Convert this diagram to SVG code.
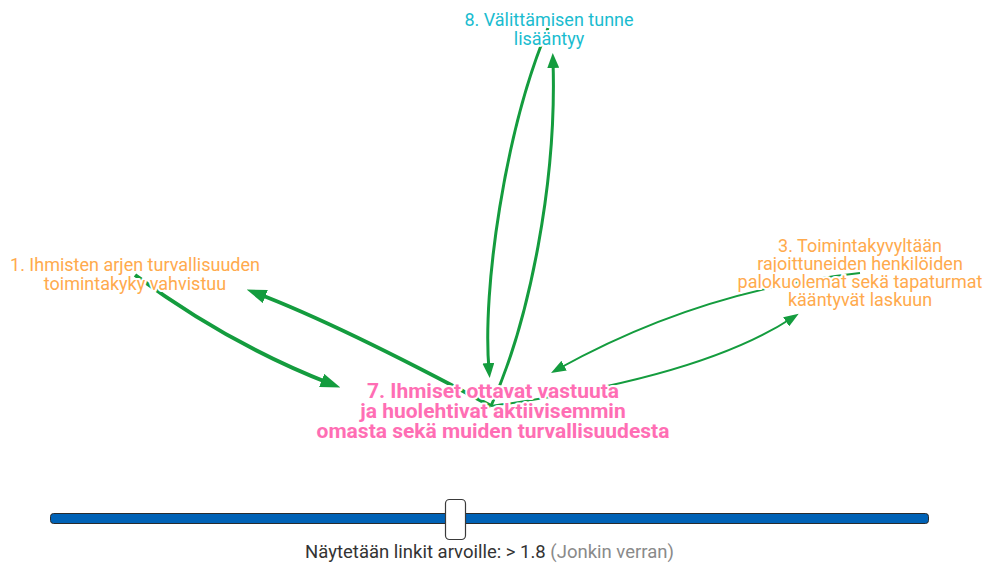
<svg xmlns="http://www.w3.org/2000/svg" width="986" height="566" viewBox="0 0 986 566">
<style>
.bg{fill:#ffffff}
.link{fill:none;stroke:#149c3e;stroke-linecap:butt}
.w4{stroke-width:4}
.w3{stroke-width:3}
.w2{stroke-width:2}
.lbl{font-family:Roboto,"Liberation Sans",sans-serif;font-size:18px;text-anchor:middle;paint-order:stroke;stroke:#ffffff;stroke-width:4px;stroke-linejoin:round}
.big{font-size:21px;font-weight:bold}
.orange{fill:#ffaa4d}
.pink{fill:#ff6eb4}
.cyan{fill:#1abccf}
.foot{font-family:Roboto,"Liberation Sans",sans-serif;font-size:18.5px;fill:#333333}
.note{fill:#8a8a8a}
</style>
<defs>
<marker id="ah-big" viewBox="0 0 20 14" refX="10" refY="7" markerWidth="20" markerHeight="14" markerUnits="userSpaceOnUse" orient="auto"><path d="M0,0 L20,7 L0,14 z" fill="#149c3e"/></marker>
<marker id="ah-med" viewBox="0 0 15 12" refX="7" refY="6" markerWidth="15" markerHeight="12" markerUnits="userSpaceOnUse" orient="auto"><path d="M0,0 L15,6 L0,12 z" fill="#149c3e"/></marker>
<marker id="ah-small" viewBox="0 0 15 11" refX="7" refY="5.5" markerWidth="15" markerHeight="11" markerUnits="userSpaceOnUse" orient="auto"><path d="M0,0 L15,5.5 L0,11 z" fill="#149c3e"/></marker>
</defs>
<rect class="bg" x="0" y="0" width="986" height="566"/>
<g id="links">
<path id="link-1-7" class="link w4" d="M135,275 Q230,345 331,384" marker-end="url(#ah-big)"/>
<path id="link-7-1" class="link w4" d="M491,406 Q340,325 256,293" marker-end="url(#ah-big)"/>
<path id="link-8-7" class="link w3" d="M548,28 C505,130 482,290 489,370" marker-end="url(#ah-med)"/>
<path id="link-7-8" class="link w3" d="M491,406 C530,320 557,180 553,61" marker-end="url(#ah-med)"/>
<path id="link-7-3" class="link w2" d="M491,406 Q700,378 792,318" marker-end="url(#ah-small)"/>
<path id="link-3-7" class="link w2" d="M860,273 Q700,290 558,369" marker-end="url(#ah-small)"/>
</g>
<g id="node-8">
<text class="lbl cyan" x="549" y="26">8. Välittämisen tunne</text>
<text class="lbl cyan" x="549" y="44.5">lisääntyy</text>
</g>
<g id="node-1">
<text class="lbl orange" x="135" y="271">1. Ihmisten arjen turvallisuuden</text>
<text class="lbl orange" x="135" y="289.5">toimintakyky vahvistuu</text>
</g>
<g id="node-3">
<text class="lbl orange" x="860" y="252">3. Toimintakyvyltään</text>
<text class="lbl orange" x="860" y="270">rajoittuneiden henkilöiden</text>
<text class="lbl orange" x="860" y="288">palokuolemat sekä tapaturmat</text>
<text class="lbl orange" x="860" y="306">kääntyvät laskuun</text>
</g>
<g id="node-7">
<text class="lbl big pink" x="493" y="398">7. Ihmiset ottavat vastuuta</text>
<text class="lbl big pink" x="493" y="418">ja huolehtivat aktiivisemmin</text>
<text class="lbl big pink" x="493" y="438">omasta sekä muiden turvallisuudesta</text>
</g>
<g id="slider">
<rect x="50.5" y="513.5" width="878" height="10" rx="3" fill="#0062b6" stroke="#2b2b2b" stroke-width="1"/>
<rect x="445.5" y="499.5" width="20" height="40" rx="4" fill="#ffffff" stroke="#3a3a3a" stroke-width="1.2"/>
<text class="foot" x="489.5" y="558" text-anchor="middle">Näytetään linkit arvoille: &gt; 1.8 <tspan class="note">(Jonkin verran)</tspan></text>
</g>
</svg>
